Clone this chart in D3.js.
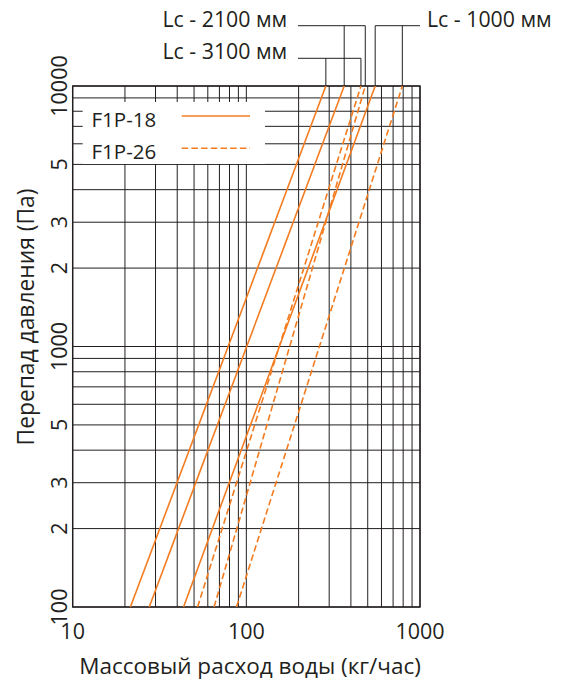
<!DOCTYPE html>
<html>
<head>
<meta charset="utf-8">
<script src="https://cdn.jsdelivr.net/npm/d3@7"></script>
<style>
  html, body { margin: 0; padding: 0; background: #fff; }
  svg { display: block; }
  text { font-family: "Open Sans", "Noto Sans", sans-serif; fill: #231f20; }
</style>
</head>
<body>
<div id="chart"></div>
<script>
// ---- data ----
const pipeLengths = ["3100", "2100", "1000"];            // Lc, мм
const pressureEnds = [100, 10000];                        // Па
const f1p18Flow = [[21.5, 287], [27.6, 366], [43.5, 552]]; // кг/час at 100 Па and 10000 Па
const f1p26Flow = [[52.4, 457], [65.2, 484], [87.8, 791]];
const xTickValues = [10, 100, 1000];
const xTickLabels = ["10", "100", "1000"];
const yTickValues = [100, 200, 300, 500, 1000, 2000, 3000, 5000, 10000];
const yTickLabels = ["100", "2", "3", "5", "1000", "2", "3", "5", "10000"];
const seriesNames = ["F1P-18", "F1P-26"];
const xTitle = "Массовый расход воды (кг/час)";
const yTitle = "Перепад давления (Па)";

// ---- layout ----
const W = 561, H = 684;
const L = 72.67, R = 420, T = 86, B = 607;
const orange = "#f47c20";
const ink = "#231f20";
const dash = "6.5,3.2";

const svg = d3.select("#chart").append("svg").attr("width", W).attr("height", H);

const x = d3.scaleLog().domain([10, 1000]).range([L, R]);
const y = d3.scaleLog().domain([100, 10000]).range([B, T]);

// grid
const grid = svg.append("g").attr("stroke", ink).attr("stroke-width", 1).attr("fill", "none");
grid.selectAll("line.v").data(x.ticks()).join("line").attr("class", "v")
  .attr("x1", d => x(d)).attr("x2", d => x(d)).attr("y1", T).attr("y2", B);
grid.selectAll("line.h").data(y.ticks()).join("line").attr("class", "h")
  .attr("x1", L).attr("x2", R).attr("y1", d => y(d)).attr("y2", d => y(d));

// legend background (covers grid)
svg.append("rect").attr("x", 82.7).attr("y", 102).attr("width", 265 - 82.7).attr("height", 164 - 102)
  .attr("fill", "#fff");

// plot frame
svg.append("rect").attr("x", L).attr("y", T).attr("width", R - L).attr("height", B - T)
  .attr("fill", "none").attr("stroke", ink).attr("stroke-width", 1.4);

// series lines
const lineGen = d3.line().x(d => x(d[0])).y(d => y(d[1]));
const toPts = flows => flows.map((g, i) => [g, pressureEnds[i]]);
const curves = svg.append("g").attr("fill", "none").attr("stroke", orange).attr("stroke-width", 1.6);
curves.selectAll("path.s18").data(f1p18Flow).join("path").attr("class", "s18")
  .attr("d", d => lineGen(toPts(d)));
curves.selectAll("path.s26").data(f1p26Flow).join("path").attr("class", "s26")
  .attr("stroke-dasharray", dash)
  .attr("d", d => lineGen(toPts(d)));

// legend
const leg = svg.append("g");
[0, 1].forEach(i => {
  const ly = 116 + i * 32.3;
  leg.append("text").attr("x", 91.5).attr("y", ly + 10.5).attr("font-size", 20.5).text(seriesNames[i]);
  leg.append("line").attr("x1", 181.7).attr("x2", 250).attr("y1", ly).attr("y2", ly)
    .attr("stroke", orange).attr("stroke-width", 1.6)
    .attr("stroke-dasharray", i === 1 ? dash : null);
});

// x axis labels
svg.selectAll("text.xt").data(xTickValues).join("text").attr("class", "xt")
  .attr("x", d => x(d)).attr("y", 638.5).attr("text-anchor", "middle").attr("font-size", 21.5)
  .text((d, i) => xTickLabels[i]);
svg.append("text").attr("x", 250).attr("y", 673.5).attr("text-anchor", "middle")
  .attr("font-size", 22.5).text(xTitle);

// y axis labels (rotated)
svg.selectAll("text.yt").data(yTickValues).join("text").attr("class", "yt")
  .attr("transform", d => `translate(66.7,${y(d)}) rotate(-90)`)
  .attr("text-anchor", "middle").attr("font-size", 21.5)
  .text((d, i) => yTickLabels[i]);
svg.append("text").attr("transform", "translate(34,317) rotate(-90)")
  .attr("text-anchor", "middle").attr("font-size", 22.8).text(yTitle);

// leader annotations for pipe lengths
const ann = svg.append("g").attr("stroke", ink).attr("stroke-width", 1).attr("fill", "none");
const topX = (flows, i) => x(flows[i][1]);
const annos = [
  { idx: 1, ly: 25.7, from: 298, label: "Lc - " + pipeLengths[1] + " мм", lx: 162.5, far: "dashed" },
  { idx: 0, ly: 58.3, from: 298, label: "Lc - " + pipeLengths[0] + " мм", lx: 162.5, far: "dashed" },
  { idx: 2, ly: 25.7, from: 420, label: "Lc - " + pipeLengths[2] + " мм", lx: 427, far: "solid" }
];
annos.forEach(a => {
  const xs = topX(f1p18Flow, a.idx), xd = topX(f1p26Flow, a.idx);
  const end = a.far === "dashed" ? xd : xs;
  ann.append("line").attr("x1", a.from).attr("x2", end).attr("y1", a.ly).attr("y2", a.ly);
  ann.append("line").attr("x1", xs).attr("x2", xs).attr("y1", a.ly).attr("y2", T);
  ann.append("line").attr("x1", xd).attr("x2", xd).attr("y1", a.ly).attr("y2", T);
  svg.append("text").attr("x", a.lx).attr("y", a.ly + 1).attr("font-size", 21.3)
    .text(a.label);
});
</script>
</body>
</html>
